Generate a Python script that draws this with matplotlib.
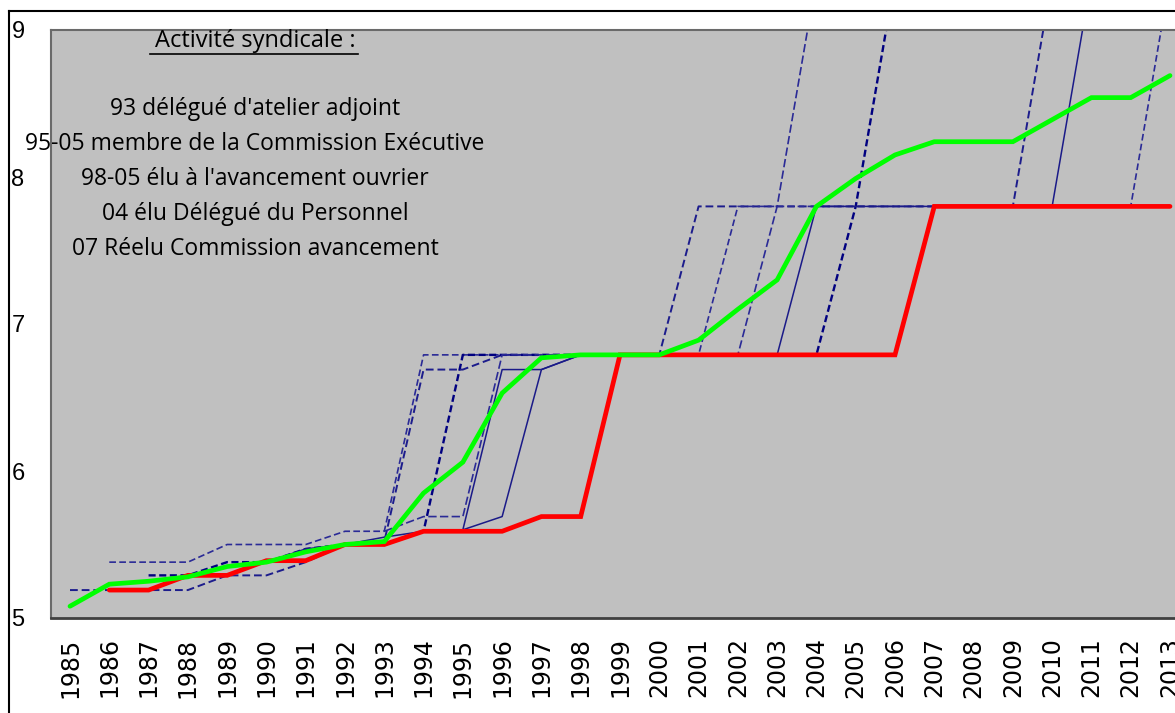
import numpy as np
import matplotlib
matplotlib.use("Agg")
import matplotlib.pyplot as plt
from matplotlib.lines import Line2D

N = np.nan
years = list(range(1985, 2014))

green = [5.08, 5.23, 5.25, 5.28, 5.35, 5.38, 5.45, 5.50, 5.52, 5.85,
         6.06, 6.53, 6.77, 6.79, 6.79, 6.79, 6.89, 7.10, 7.30, 7.80,
         7.99, 8.15, 8.24, 8.24, 8.24, 8.39, 8.54, 8.54, 8.69]

red = [N, 5.19, 5.19, 5.29, 5.29, 5.39, 5.39, 5.50, 5.50, 5.59,
       5.59, 5.59, 5.69, 5.69, 6.79, 6.79, 6.79, 6.79, 6.79, 6.79,
       6.79, 6.79, 7.80, 7.80, 7.80, 7.80, 7.80, 7.80, 7.80]

blue1 = [5.19, 5.19, 5.19, 5.19, 5.29, 5.29, 5.38, 5.50, 5.52, 6.69,
         6.69, 6.79, 6.79, 6.79, 6.79, 6.79, 7.80, 7.80, 7.80, 7.80,
         7.80, 7.80, 7.80, 7.80, 7.80, 9.35, N, N, N]
blue2 = [N, 5.38, 5.38, 5.38, 5.50, 5.50, 5.50, 5.59, 5.59, 6.79,
         6.79, 6.79, 6.79, 6.79, 6.79, 6.79, 6.79, 7.80, 7.80, 7.80,
         7.80, 7.80, 7.80, 7.80, 7.80, 7.80, 7.80, 7.80, 9.35]
blue3 = [N, N, 5.29, 5.29, 5.38, 5.38, 5.47, 5.50, 5.50, 5.59,
         6.79, 6.79, 6.79, 6.79, 6.79, 6.79, 6.79, 6.79, 6.79, 6.79,
         7.80, 9.35, N, N, N, N, N, N, N]
blue4 = [N, N, N, N, N, 5.38, 5.47, 5.50, 5.55, 5.59,
         5.60, 5.69, 6.69, 6.79, 6.79, 6.79, 6.79, 6.79, 6.79, 7.80,
         7.80, 7.80, 7.80, 7.80, 7.80, 7.80, 9.35, N, N]
blue5 = [N, N, N, N, N, N, N, N, 5.59, 5.69,
         5.69, 6.79, 6.79, 6.79, 6.79, 6.79, 6.79, 6.79, 7.80, 9.35,
         N, N, N, N, N, N, N, N, N]
blue6 = [N, N, N, N, N, N, N, N, N, N,
         5.60, 6.69, 6.69, 6.79, 6.79, N, N, N, N, N,
         N, N, N, N, N, N, N, N, N]

yticks = [5, 6, 7, 8, 9]
notes_title = "Activité syndicale :"
notes = ["93 délégué d'atelier adjoint",
         "95-05 membre de la Commission Exécutive",
         "98-05 élu à l'avancement ouvrier",
         "04 élu Délégué du Personnel",
         "07 Réelu Commission avancement"]

W, H = 1175, 713
fig = plt.figure(figsize=(W / 100, H / 100), dpi=100)
fig.patch.set_facecolor("white")

ax_left, ax_top, ax_bottom = 51, 30, 618
ax = fig.add_axes([ax_left / W, (H - ax_bottom) / H, 1 - ax_left / W, (ax_bottom - ax_top) / H])
ax.set_facecolor("#C0C0C0")

px_per_year = (1170 - 70) / 28
ax.set_xlim(1985 - (70 - ax_left) / px_per_year, 1985 + (W - 70) / px_per_year)
ax.set_ylim(5, 9)

blue_styles = [
    (blue1, dict(color="#1c1c8c", lw=1.4, ls=(0, (4, 2)))),
    (blue2, dict(color="#2a2a96", lw=1.2, ls=(0, (4, 2)))),
    (blue3, dict(color="#000080", lw=1.7, ls=(0, (3, 1.5)))),
    (blue4, dict(color="#1a1a88", lw=1.1, ls="-")),
    (blue5, dict(color="#2a2a96", lw=1.2, ls=(0, (5, 2)))),
    (blue6, dict(color="#1a1a88", lw=1.1, ls="-")),
]
for series, st in blue_styles:
    ax.plot(years, np.array(series, dtype=float), **st, zorder=2)

ax.plot(years, np.array(red, dtype=float), color="#FF0000", lw=3.4, zorder=3,
        solid_capstyle="round", solid_joinstyle="miter")
ax.plot(years, np.array(green, dtype=float), color="#00FF00", lw=3.4, zorder=4,
        solid_capstyle="round", solid_joinstyle="miter")

ax.set_xticks(years)
ax.set_xticklabels([str(y) for y in years], rotation=90, fontsize=17,
                   family="DejaVu Sans")
ax.set_yticks(yticks)
ax.set_yticklabels([str(v) for v in yticks], fontsize=17, family="Liberation Sans")
ax.tick_params(axis="x", length=0, pad=14)
ax.tick_params(axis="y", length=0, pad=19)

for side in ["left", "top", "bottom"]:
    ax.spines[side].set_color("#6a6a6a")
    ax.spines[side].set_linewidth(1.5)
ax.spines["bottom"].set_color("#404040")
ax.spines["bottom"].set_linewidth(2)
ax.spines["right"].set_visible(False)

# outer frame
fig.add_artist(Line2D([9 / W, 1], [1 - 11 / H, 1 - 11 / H], color="black", lw=1.5,
                      transform=fig.transFigure))
fig.add_artist(Line2D([9 / W, 9 / W], [0, 1 - 11 / H], color="black", lw=1.5,
                      transform=fig.transFigure))

font_note = "Open Sans"
cx = 255 / W
fig.text(cx, 1 - 41 / H, notes_title, ha="center", va="center", fontsize=17,
         family=font_note, color="black")
fig.add_artist(Line2D([150 / W, 358 / W], [1 - 54 / H, 1 - 54 / H], color="black",
                      lw=1.2, transform=fig.transFigure))
for i, s in enumerate(notes):
    fig.text(cx, 1 - (109 + 35 * i) / H, s, ha="center", va="center", fontsize=16.5,
             family=font_note, color="black")

fig.savefig("out.png", dpi=100)
